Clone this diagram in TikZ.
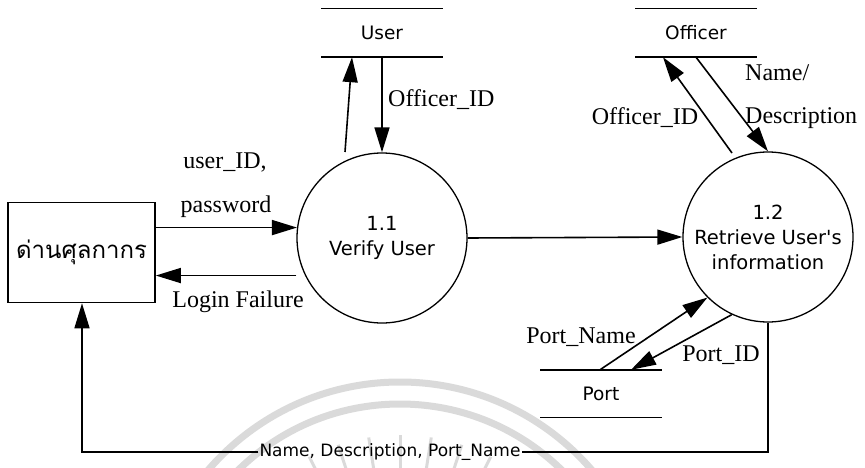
\documentclass[tikz,border=0pt]{standalone}
\usepackage{fontspec}
\setmainfont{Liberation Serif}
\newfontfamily\sansf{DejaVu Sans}
\newfontfamily\thaifont[Script=Thai]{Loma}
\usetikzlibrary{arrows.meta}
\definecolor{wmark}{RGB}{218,218,218}
\begin{document}
\begin{tikzpicture}[x=1pt,y=-1pt,
  flow/.style={line width=1.6pt,-{Triangle[length=25pt,width=15pt]}},
  proc/.style={circle,draw,line width=1.3pt,minimum size=170pt,inner sep=0pt,
    font=\sansf\fontsize{19.5}{25}\selectfont,align=center},
  storelbl/.style={minimum width=121pt,minimum height=48pt,inner sep=0pt,
    font=\sansf\fontsize{18.5}{22}\selectfont},
  storeline/.style={line width=1.4pt},
  lbl/.style={font=\fontsize{24}{28}\selectfont,inner sep=1pt}]
\useasboundingbox (0,0) rectangle (865,468);

% faint emblem in the background
\begin{scope}
  \clip (0,0) rectangle (865,468);
  \draw[wmark,line width=7pt] (400,635) circle[radius=253];
  \draw[wmark,line width=7pt] (400,635) circle[radius=231];
  \foreach \a in {54,63,72,81,90,99,108,117,126}
    \draw[wmark,line width=3pt] ({400+165*cos(\a)},{635-165*sin(\a)}) -- ({400+200*cos(\a)},{635-200*sin(\a)});
\end{scope}

% external entity
\node[draw,line width=1.6pt,minimum width=147pt,minimum height=100pt,inner sep=0pt,
  font=\thaifont\fontsize{24}{28}\selectfont] (ext) at (81.5,252.5) {ด่านศุลกากร};

% processes
\node[proc] (p11) at (382,238) {1.1\\Verify User};
\node[proc] (p12) at (768,237) {1.2\\Retrieve User's\\information};

% data stores
\node[storelbl] (su) at (382,33) {User};
\draw[storeline] (su.north west) -- (su.north east) (su.south west) -- (su.south east);
\node[storelbl] (so) at (696,33) {Officer};
\draw[storeline] (so.north west) -- (so.north east) (so.south west) -- (so.south east);
\node[storelbl,minimum height=47pt] (sp) at (601,393.5) {Port};
\draw[storeline] (sp.north west) -- (sp.north east) (sp.south west) -- (sp.south east);

% data flows
\draw[flow] (ext.east |- p11.173) -- (p11.173);
\draw[flow] (p11.206 -| p11.west) -- (ext.east |- p11.206);
\draw[flow] (p11.east) -- (p12.west);

\coordinate (uo) at (345,152);
\draw[flow] (uo) -- ([xshift=-30pt]su.south);
\draw[flow] (su.south) -- (p11.north);

\coordinate (oo) at (732,153);
\draw[flow] (oo) -- ([xshift=-33pt]so.south);
\draw[flow] (so.south) -- (p12.north);

\draw[flow] ([xshift=-1pt]sp.north) -- (p12.225);
\draw[flow] (p12.245) -- ([xshift=30pt]sp.north);

\node[font=\sansf\fontsize{17}{20}\selectfont,inner sep=1pt] (ret) at (390,452) {Name, Description, Port\_Name};
\coordinate (corner) at (82,452);
\draw[line width=1.3pt] (p12.south) |- (ret.east);
\draw[flow] (ret.west) -| (ext.south -| corner);

% flow labels
\node[lbl] (l1) at (225,162) {user\_ID,};
\node[lbl] (l2) at (226,207) {password};
\node[lbl] (l3) at (238,302) {Login Failure};
\node[lbl,anchor=west] (l4) at (387,100) {Officer\_ID};
\node[lbl] (l5) at (645,118) {Officer\_ID};
\node[lbl,anchor=west] (l6) at (744,73) {Name/};
\node[lbl,anchor=west] (l7) at (744,118) {Description};
\node[lbl] (l8) at (581,337) {Port\_Name};
\node[lbl] (l9) at (721,355) {Port\_ID};
\end{tikzpicture}
\end{document}
